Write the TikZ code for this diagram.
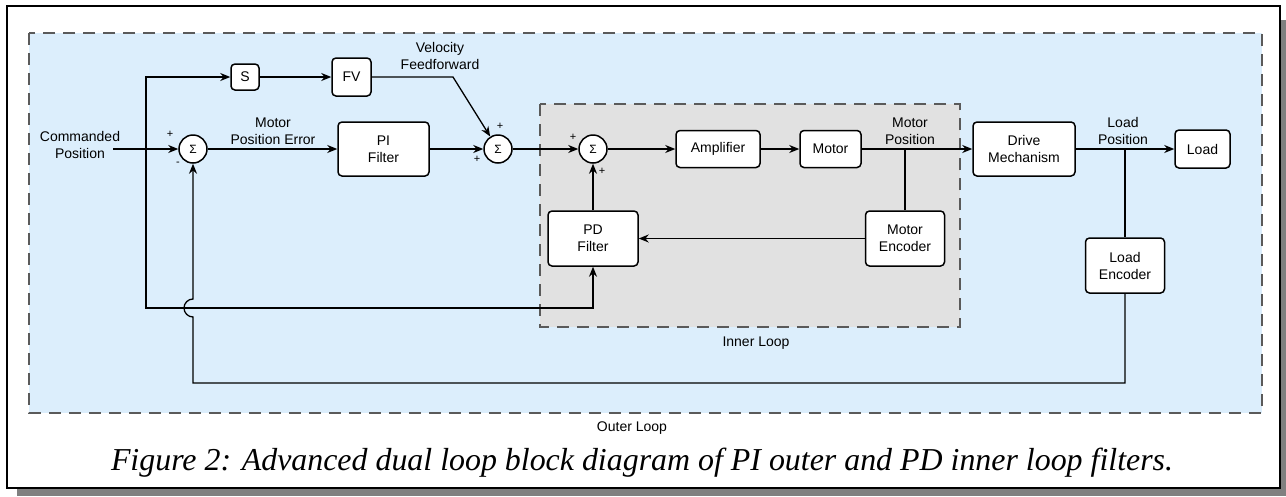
\documentclass[tikz,border=0pt]{standalone}
\usepackage{fontspec}
\setmainfont{Liberation Sans}
\newfontfamily\capfont{Liberation Serif}
\usetikzlibrary{arrows.meta}
\definecolor{outerfill}{HTML}{DCEEFC}
\definecolor{innerfill}{HTML}{E1E1E1}
\definecolor{loopline}{HTML}{5A5A5A}
\definecolor{shadowgray}{HTML}{808080}
\begin{document}
\begin{tikzpicture}[x=1pt,y=-1pt,
    font=\fontsize{14}{17}\selectfont,
    blk/.style={draw,rounded corners=4pt,line width=1.5pt,fill=white,align=center,inner sep=0pt},
    sum/.style={draw,circle,line width=1.5pt,fill=white,minimum size=28pt,inner sep=0pt,font=\fontsize{12}{12}\selectfont},
    sgn/.style={font=\fontsize{11}{11}\selectfont,inner sep=0pt},
    lbl/.style={align=center,inner sep=0pt},
    wire/.style={line width=1.3pt},
    arr/.style={wire,-{Stealth[length=10pt,width=8pt]}},
    loopbox/.style={draw=loopline,line width=1.2pt,dash pattern=on 12pt off 8pt}]
      \useasboundingbox (0,0) rectangle (1286,496);
      \fill[shadowgray] (17,20) rectangle (1286,496);
      \draw[line width=1.5pt,fill=white] (7,6) rectangle (1280,488);
      \draw[loopbox,fill=outerfill] (29,33) rectangle (1262,413);
      \draw[loopbox,fill=innerfill] (540,104) rectangle (960,327);

      \node[lbl] (cmd) at (80,145) {Commanded\\Position};
      \node[sum] (sum1) at (193,149) {Σ};
      \node[sum] (sum2) at (498,149) {Σ};
      \node[sum] (sum3) at (593,149) {Σ};

      \node[blk,minimum width=28pt,minimum height=26pt] (S) at (245,77) {S};
      \node[blk,minimum width=39pt,minimum height=38pt] (FV) at (351.5,77) {FV};
      \node[blk,minimum width=91pt,minimum height=54pt] (PI) at (383.5,149) {PI\\Filter};
      \node[blk,minimum width=84pt,minimum height=37pt] (amp) at (718,149) {Amplifier};
      \node[blk,minimum width=61pt,minimum height=37pt] (motor) at (830.5,149) {Motor};
      \node[blk,minimum width=102pt,minimum height=54pt] (drive) at (1024,149) {Drive\\Mechanism};
      \node[blk,minimum width=55pt,minimum height=38pt] (load) at (1202.5,149) {Load};
      \node[blk,minimum width=90pt,minimum height=55pt] (PD) at (593,238.5) {PD\\Filter};
      \node[blk,minimum width=79pt,minimum height=55pt] (menc) at (905,238.5) {Motor\\Encoder};
      \node[blk,minimum width=79pt,minimum height=55pt] (lenc) at (1125,265.5) {Load\\Encoder};

      \node[lbl] (perr) at (273,131.5) {Motor\\Position Error};
      \node[lbl] (vff) at (440,55.5) {Velocity\\Feedforward};
      \node[lbl] (mpos) at (910,131.5) {Motor\\Position};
      \node[lbl] (lpos) at (1123,130.5) {Load\\Position};
      \node[lbl] (inner) at (756,343) {Inner Loop};
      \node[lbl] (outer) at (632,428) {Outer Loop};

      \node[sgn] (p1) at (170,134) {+};
      \node[sgn] (m1) at (178,164) {-};
      \node[sgn] (p2) at (500,126) {+};
      \node[sgn] (p3) at (477,159) {+};
      \node[sgn] (p4) at (573,137) {+};
      \node[sgn] (p5) at (602,171) {+};

      \node[font={\capfont\itshape\fontsize{31.9}{36}\selectfont},inner sep=0pt,anchor=base] (cap) at (642,470)
        {Figure 2: Advanced dual loop block diagram of PI outer and PD inner loop filters.};

      \coordinate (cmdo) at (113,149);
      \coordinate (br) at (146,149);
      \coordinate (ffb) at (146,308);
      \coordinate (ffk) at (453,77);
      \coordinate (mp) at (905,149);
      \coordinate (lp) at (1125,149);
      \coordinate (fbr) at (1125,383);
      \coordinate (fbl) at (193,383);
      \coordinate (hop) at (193,317);

      \draw[arr] (cmdo) -- (sum1);
      \draw[arr] (br) |- (S);
      \draw[arr] (br) -- (ffb) -| (PD);
      \draw[arr] (S) -- (FV);
      \draw[arr] (FV) -- (ffk) -- (sum2);
      \draw[arr] (sum1) -- (PI);
      \draw[arr] (PI) -- (sum2);
      \draw[arr] (sum2) -- (sum3);
      \draw[arr] (sum3) -- (amp);
      \draw[arr] (amp) -- (motor);
      \draw[arr] (motor) -- (drive);
      \draw[arr] (drive) -- (load);
      \draw[wire] (mp) -- (menc);
      \draw[arr] (menc) -- (PD);
      \draw[arr] (PD) -- (sum3);
      \draw[wire] (lp) -- (lenc);
      \draw[arr] (lenc) -- (fbr) -- (fbl) -- (hop) arc[start angle=90,end angle=270,radius=9] -- (sum1);
    \end{tikzpicture}
\end{document}
